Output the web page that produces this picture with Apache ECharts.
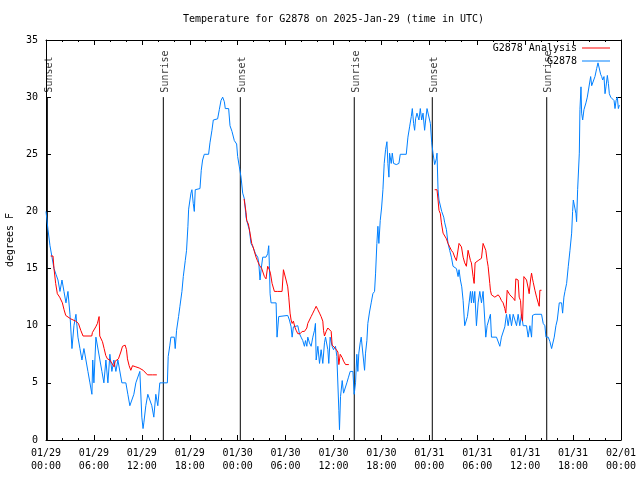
<!DOCTYPE html>
<html>
<head>
<meta charset="utf-8">
<script src="https://cdn.jsdelivr.net/npm/echarts@6/dist/echarts.min.js"></script>
<style>html,body{margin:0;padding:0;background:#fff}#c{width:640px;height:480px}</style>
</head>
<body>
<div id="c"></div>
<script>
const titleText = 'Temperature for G2878 on 2025-Jan-29 (time in UTC)';
const yAxisName = 'degrees F';
const xTickLabels = ['01/29\n00:00','01/29\n06:00','01/29\n12:00','01/29\n18:00','01/30\n00:00','01/30\n06:00','01/30\n12:00','01/30\n18:00','01/31\n00:00','01/31\n06:00','01/31\n12:00','01/31\n18:00','02/01\n00:00'];
const seriesNames = ['G2878 Analysis', 'G2878'];

// hours since 2025-01-29 00:00 UTC
const obsHours = [0,0.25,0.5,0.75,1,1.25,1.5,1.75,2,2.25,2.5,2.75,3,3.25,3.5,3.75,4,4.25,4.5,4.75,5,5.25,5.5,5.75,5.85,6,6.25,6.5,6.75,7,7.25,7.5,7.75,8,8.25,8.5,8.75,9,9.25,9.5,9.75,10,10.25,10.5,10.75,11,11.25,11.5,11.75,12,12.15,12.25,12.5,12.75,13,13.25,13.5,13.75,14,14.25,14.5,15.2,15.3,15.51,15.64,16.06,16.18,16.35,16.6,16.77,17.02,17.19,17.44,17.6,17.77,17.86,18.15,18.27,18.44,18.57,18.69,18.86,19.28,19.44,19.61,19.82,20.36,20.53,20.78,20.95,21.49,21.7,21.91,22.12,22.33,22.45,22.87,23.04,23.29,23.58,23.87,24.0,24.21,24.42,24.63,24.84,25.05,25.25,25.46,25.67,25.97,26.22,26.51,26.64,26.8,26.93,27.14,27.55,27.76,27.89,27.97,28.06,28.18,28.81,28.93,29.14,29.31,30.27,30.48,30.69,30.82,30.98,31.23,31.53,31.74,31.94,32.15,32.36,32.49,32.66,32.78,32.99,33.2,33.41,33.62,33.74,33.83,34.04,34.25,34.45,34.66,34.87,35.0,35.29,35.41,35.58,35.83,36.0,36.25,36.42,36.67,36.75,36.88,37.09,37.26,37.51,37.67,37.88,38.09,38.43,38.59,38.76,38.92,39.05,39.17,39.34,39.47,39.68,39.89,40.01,40.18,40.3,40.51,40.72,40.93,41.14,41.27,41.43,41.56,41.68,41.85,42.02,42.19,42.35,42.52,42.69,42.81,42.94,43.02,43.23,43.36,43.52,43.86,44.19,44.36,45.11,45.32,45.53,45.74,45.87,46.03,46.16,46.28,46.45,46.7,46.87,47.04,47.21,47.41,47.54,47.71,47.96,48.13,48.3,48.46,48.67,48.88,48.96,49.09,49.21,49.38,49.55,49.8,49.93,50.14,50.34,50.55,50.76,50.97,51.39,51.6,51.72,51.89,52.06,52.23,52.43,52.64,52.77,52.98,53.15,53.27,53.4,53.56,53.69,53.9,54.11,54.32,54.53,54.73,54.94,55.07,55.24,55.49,55.65,55.78,56.41,56.83,57.03,57.24,57.45,57.66,57.87,58.08,58.29,58.5,58.71,58.92,59.12,59.33,59.54,59.75,60.17,60.38,60.59,60.8,60.92,61.22,62.05,62.26,62.47,62.6,62.89,63.1,63.31,63.52,63.64,63.85,64.02,64.27,64.56,64.69,64.85,64.98,65.19,65.4,65.61,65.82,65.94,66.03,66.23,66.36,66.44,66.57,66.78,66.86,66.99,67.07,67.2,67.36,67.61,67.78,68.03,68.2,68.33,68.53,68.74,68.95,69.12,69.37,69.45,69.58,69.71,69.87,70.0,70.12,70.29,70.42,70.54,70.71,70.96,71.13,71.25,71.38,71.54,71.67,71.8];
const obsTemps = [20,18.4,17,16,15,14.5,14,13,14,13,12,13,11,8,10,11,9,8,7,8,7,6,5,4,7,5,9,9,7,6,5,7,5,7.5,6,7,6,7,7,5,5,5,4,3,3,4,5,5,6,2,1,1.5,3,4,4,3,2,4,3,5,5,5,7.3,8.3,9,9,8,9.6,10.8,11.7,13,14.3,15.7,16.6,18.7,20.2,21.6,21.9,20.7,20,21.9,22,22,23.6,24.5,25,25,26,27.1,28,28.1,28.9,29.7,30,29.6,29,29,27.5,27,26.2,25.9,24.8,23.9,23,21.6,21.1,19.5,18.9,18.4,17.2,16.8,16.3,16,15.5,14,14.9,16,16,16.3,17,15.3,12.8,12,12,9,10.8,10.9,10.9,10.5,9.9,9,9.9,10,10,9.3,9,8.7,8.2,8.7,8.2,9,8.5,8.2,9,9.6,10.2,7,8.2,6.7,7.9,6.7,8.5,9,7.9,6.7,9,8.2,7.9,8.2,7.3,2.6,0.9,3.8,5.2,4.1,4.1,5,5.5,6,6,4,5,7.5,6,7.6,8.5,9,9,6.1,7.6,8.7,10.2,11.2,12,12.8,13,14.6,17.2,18.7,17.2,19.2,20.3,21.9,24.2,25.4,26.1,24.2,23,25.1,24.2,25.1,24.2,24.1,24.2,25,25,26.5,27.4,28.3,29,27.7,27.1,28.1,28.6,28,29,28,28.6,27.1,28,29,29,27.7,26,25.1,24.1,24.6,25.1,21.9,21,21,20,19.5,19,18.4,17.2,16.6,16,15.2,15,14.3,14.9,14,13.4,12.2,10,10,10.8,12,13,12,13,12,13,10,12,13,12,13,13,9,10,10,11,9,9,8.2,9,9,9.9,11,10,11,10,11,11,10,11,10,11,10,10,9,10,9,10.9,11,11,10.2,10,9,9,8.6,8,8,9,10,10.5,12,12,11.1,12.5,13,13.7,15.2,16.6,18.1,20,21,21,19.8,19.1,21.9,25.1,28.9,30.9,28.6,28,28.9,29.5,30,30,31.8,31,31,31.8,32.5,33,32.9,32,31.8,31.5,31.8,30.3,30.9,31.9,31.2,30.3,30,30,29.7,29,29.7,30,29,29.3];

// analysis: null marks a gap between runs
const anaHours = [0.585,0.878,1.0,1.21,1.42,1.71,2.05,2.26,2.47,2.68,3.09,3.3,3.72,4.06,4.35,4.64,5.73,5.81,6.02,6.23,6.44,6.65,6.73,6.86,7.07,7.28,7.48,7.69,7.99,8.24,8.53,8.66,8.82,9.07,9.37,9.58,9.78,9.91,10.08,10.2,10.41,10.62,10.83,11.04,11.25,11.67,11.87,12.17,12.42,12.71,13.34,13.88,
 19,
 24.8,24.96,25.05,25.13,25.34,25.55,25.76,25.88,26.05,26.3,26.47,26.72,27.01,27.14,27.35,27.55,27.76,27.89,27.97,28.1,28.31,28.6,29.02,29.56,29.73,29.85,30.06,30.27,30.4,30.56,30.69,30.82,30.98,31.15,31.32,31.53,31.82,32.07,32.36,32.66,32.78,32.99,33.2,33.41,33.62,33.83,34.04,34.25,34.45,34.66,34.75,34.87,35.08,35.29,35.5,35.71,35.83,36.0,36.25,36.42,36.55,36.67,36.84,37.09,37.26,37.51,37.67,37.92,
 43,
 48.67,48.96,49.09,49.21,49.38,49.51,49.72,49.93,50.14,50.34,50.55,50.76,50.97,51.18,51.39,51.6,51.72,51.89,52.02,52.23,52.43,52.64,52.85,52.98,53.15,53.27,53.48,53.61,53.73,53.9,54.11,54.32,54.53,54.73,54.94,55.07,55.24,55.36,55.57,55.65,55.78,55.99,56.2,56.41,56.62,56.83,57.03,57.24,57.45,57.58,57.75,57.87,58.08,58.29,58.5,58.71,58.83,59.0,59.12,59.25,59.42,59.54,59.67,59.84,59.96,60.17,60.38,60.5,60.67,60.8,60.92,61.01,61.22,61.43,61.63,61.76,61.84,62.05];
const anaTemps = [16.1,16.1,15.0,13.7,12.8,12.5,12.0,11.4,10.9,10.8,10.6,10.5,10.4,10.2,9.6,9.1,9.1,9.4,9.5,9.9,10.2,10.8,9.1,9.0,8.6,8.0,7.4,7.1,7.0,6.9,6.4,6.9,6.9,7.1,7.7,8.2,8.3,8.3,7.9,7.1,6.5,6.1,6.5,6.5,6.4,6.3,6.3,6.1,6.0,5.7,5.7,5.7,
 null,
 21.1,21.0,19.9,19.2,18.9,18.1,17.2,17.0,16.6,16.0,15.7,15.3,15.0,14.9,14.3,14.1,15.2,15.2,14.9,14.6,13.7,13.0,13.0,13.0,14.9,14.9,14.0,13.4,12.5,11.1,10.5,10.2,10.4,9.9,9.6,9.3,9.3,9.5,9.5,9.8,10.2,10.5,10.8,11.1,11.4,11.7,11.4,11.1,10.8,10.4,9.6,9.1,9.5,9.8,9.8,9.5,8.3,8.2,8.0,7.9,7.7,6.6,7.5,7.2,6.9,6.6,6.6,6.6,
 null,
 21.9,21.9,21.0,20.1,19.8,19.0,18.1,18.1,17.6,17.2,16.9,16.6,16.4,16.0,15.7,15.6,17.2,17.2,16.9,16.0,15.5,15.2,16.6,16.6,15.7,15.5,14.3,13.7,15.5,15.6,15.7,15.7,15.9,17.2,17.2,16.6,15.7,15.2,13.7,13.1,12.7,12.7,12.5,12.5,12.7,12.5,12.2,12.0,11.5,11.1,13.1,13.1,12.7,12.7,12.4,12.2,14.1,14.1,14.0,12.5,12.2,10.8,10.4,14.3,14.4,14.0,13.3,12.8,14.0,14.6,14.1,13.8,13.1,12.5,12.0,11.7,13.1,13.1];

const sunEventHours = [0.17, 14.69, 24.33, 38.6, 48.37, 62.7];
const sunEventNames = ['Sunset','Sunrise','Sunset','Sunrise','Sunset','Sunrise'];
const sunLineTop = 30;

const FONT = 'DejaVu Sans Mono';
const txt = {fontFamily: FONT, fontSize: 10, color: '#000'};
const chart = echarts.init(document.getElementById('c'), null, {renderer: 'canvas'});

const obsData = obsHours.map((h, i) => [h, obsTemps[i]]);
const anaData = anaHours.map((h, i) => [h, anaTemps[i] === null ? '-' : anaTemps[i]]);

const axisLine = {show: true, onZero: false, lineStyle: {color: '#000', width: 1}};
const xCommon = {
  type: 'value', min: 0, max: 72, interval: 6,
  axisLine: axisLine,
  axisTick: {show: true, inside: true, length: 5, lineStyle: {color: '#000'}},
  minorTick: {show: true, splitNumber: 3, length: 2, lineStyle: {color: '#000'}},
  splitLine: {show: false}, minorSplitLine: {show: false}
};
const yCommon = {
  type: 'value', min: 0, max: 35, interval: 5,
  axisLine: axisLine,
  axisTick: {show: true, inside: true, length: 5, lineStyle: {color: '#000'}},
  splitLine: {show: false}
};

const series = [];
sunEventHours.forEach((t, i) => {
  series.push({
    type: 'line', silent: true, symbol: 'none', animation: false,
    data: [[t, 0], [t, sunLineTop]],
    lineStyle: {color: '#000', width: 1}, z: 1
  });
  series.push({
    type: 'scatter', silent: true, animation: false,
    symbolSize: 1, itemStyle: {color: 'rgba(0,0,0,0)'},
    data: [[t, sunLineTop]],
    label: {show: true, formatter: sunEventNames[i], position: 'top', distance: 4,
      rotate: 90, align: 'left', verticalAlign: 'middle', offset: [0, 2],
      fontFamily: FONT, fontSize: 10, color: '#000'},
    z: 2
  });
});
series.push({
  name: seriesNames[1], type: 'line', data: obsData, symbol: 'none', showSymbol: false,
  lineStyle: {color: '#0080ff', width: 1}, itemStyle: {color: '#0080ff'}, animation: false, z: 3
});
series.push({
  name: seriesNames[0], type: 'line', data: anaData, symbol: 'none', showSymbol: false, connectNulls: false,
  lineStyle: {color: '#ff0000', width: 1}, itemStyle: {color: '#ff0000'}, animation: false, z: 4
});

const legendCommon = {
  orient: 'vertical', align: 'right', right: 30, itemWidth: 28, itemHeight: 1,
  icon: 'rect', itemGap: 4, textStyle: txt, selectedMode: false, padding: 0
};

chart.setOption({
  animation: false,
  backgroundColor: '#fff',
  title: {text: titleText, left: 183, top: 14, padding: 0,
    textStyle: {fontFamily: FONT, fontSize: 10, fontWeight: 'normal', color: '#000'}},
  legend: [
    Object.assign({}, legendCommon, {data: [seriesNames[0]], top: 43}),
    Object.assign({}, legendCommon, {data: [seriesNames[1]], top: 56})
  ],
  grid: {left: 46, right: 19, top: 40, bottom: 40, containLabel: false, outerBoundsMode: 'none'},
  xAxis: [
    Object.assign({}, xCommon, {position: 'bottom',
      axisLabel: Object.assign({show: true, margin: 7, lineHeight: 13,
        formatter: v => xTickLabels[Math.round(v / 6)]}, txt)}),
    Object.assign({}, xCommon, {position: 'top', axisLabel: {show: false}})
  ],
  yAxis: [
    Object.assign({}, yCommon, {position: 'left', name: yAxisName, nameLocation: 'middle',
      nameRotate: 90, nameGap: 29, nameTextStyle: txt,
      axisLabel: Object.assign({show: true, margin: 8}, txt)}),
    Object.assign({}, yCommon, {position: 'right', axisLabel: {show: false}})
  ],
  series: series
});
</script>
</body>
</html>
